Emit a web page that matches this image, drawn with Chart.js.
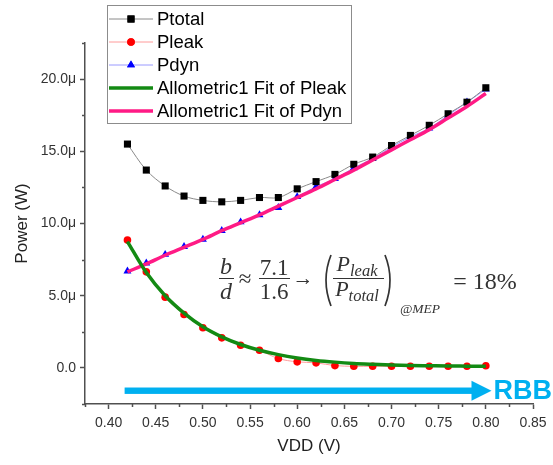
<!DOCTYPE html>
<html>
<head>
<meta charset="utf-8">
<script src="https://cdn.jsdelivr.net/npm/chart.js@4.4.0/dist/chart.umd.min.js"></script>
<style>
html,body{margin:0;padding:0;background:#fff;}
#wrap{position:relative;width:553px;height:465px;overflow:hidden;}
#c{position:absolute;left:0;top:0;}
.m{position:absolute;font-family:"Liberation Serif",serif;color:#333;line-height:1;white-space:nowrap;transform:translate(-50%,-50%);}
.i{font-style:italic;}
.bar{position:absolute;height:1.4px;background:#333;}
sub{font-size:0.75em;vertical-align:-0.28em;}
</style>
</head>
<body>
<div id="wrap">
  <canvas id="c" width="553" height="465"></canvas>
  <!-- formula -->
  <div class="m i" style="left:226px;top:266px;font-size:24px">b</div>
  <div class="bar" style="left:219px;top:278px;width:15px"></div>
  <div class="m i" style="left:226px;top:291px;font-size:24px">d</div>
  <div class="m" style="left:245px;top:278px;font-size:23px">≈</div>
  <div class="m" style="left:274px;top:267px;font-size:23px">7.1</div>
  <div class="bar" style="left:259px;top:278px;width:31px"></div>
  <div class="m" style="left:274px;top:291px;font-size:23px">1.6</div>
  <div class="m" style="left:303px;top:278px;font-size:21px">→</div>
  <svg style="position:absolute;left:318px;top:253px" width="80" height="56">
    <path d="M13,2 Q3,27 13,53" fill="none" stroke="#333" stroke-width="1.7"/>
    <path d="M67,2 Q77,27 67,53" fill="none" stroke="#333" stroke-width="1.7"/>
  </svg>
  <div class="m i" style="left:357px;top:266px;font-size:22px">P<sub>leak</sub></div>
  <div class="bar" style="left:333px;top:278px;width:51px"></div>
  <div class="m i" style="left:357px;top:291px;font-size:22px">P<sub>total</sub></div>
  <div class="m i" style="left:420px;top:309px;font-size:13.5px">@MEP</div>
  <div class="m" style="left:485px;top:281px;font-size:24px">= 18%</div>
</div>
<script>
// VDD sweep (V) and measured powers (uW)
const VDD = [0.42, 0.44, 0.46, 0.48, 0.50, 0.52, 0.54, 0.56, 0.58, 0.60,
             0.62, 0.64, 0.66, 0.68, 0.70, 0.72, 0.74, 0.76, 0.78, 0.80];
const P_TOTAL = [15.5, 13.7, 12.6, 11.9, 11.6, 11.5, 11.6, 11.8, 11.8, 12.4,
                 12.9, 13.4, 14.1, 14.6, 15.4, 16.1, 16.8, 17.6, 18.4, 19.4];
const P_LEAK = [8.85, 6.65, 4.9, 3.7, 2.78, 2.08, 1.57, 1.22, 0.65, 0.42,
                0.35, 0.16, 0.11, 0.11, 0.11, 0.11, 0.11, 0.11, 0.11, 0.15];
const P_DYN = [6.7, 7.25, 7.85, 8.4, 8.9, 9.5, 10.1, 10.6, 11.1, 11.85,
               12.55, 13.1, 13.85, 14.5, 15.3, 16.0, 16.6, 17.5, 18.4, 19.3];
// fitted curves
const FIT_LEAK = [8.75, 6.6, 5.0, 3.8, 2.85, 2.15, 1.62, 1.22, 0.92, 0.69,
                  0.52, 0.40, 0.31, 0.25, 0.20, 0.17, 0.15, 0.13, 0.12, 0.11];
const FIT_DYN = [6.65, 7.2, 7.8, 8.35, 8.9, 9.5, 10.05, 10.6, 11.2, 11.8,
                 12.4, 13.05, 13.7, 14.4, 15.1, 15.8, 16.5, 17.3, 18.1, 19.0];

const X_MAJOR = [0.40, 0.45, 0.50, 0.55, 0.60, 0.65, 0.70, 0.75, 0.80, 0.85];
const X_LABELS = ["0.40","0.45","0.50","0.55","0.60","0.65","0.70","0.75","0.80","0.85"];
const X_MINOR = [0.375, 0.425, 0.475, 0.525, 0.575, 0.625, 0.675, 0.725, 0.775, 0.825];
const Y_MAJOR = [0, 5, 10, 15, 20];
const Y_LABELS = ["0.0", "5.0\u03bc", "10.0\u03bc", "15.0\u03bc", "20.0\u03bc"];
const Y_MINOR = [-2.5, 2.5, 7.5, 12.5, 17.5, 22.5];

// RBB arrow, in data units
const ARROW_X = [0.417, 0.806];
const ARROW_Y = -1.58;

const FONT = "'Liberation Sans', Arial, sans-serif";
const AXIS = "#505050";

function pts(ys){ return VDD.map((x,i) => ({ x, y: ys[i] })); }

const series = [
  { label:"Ptotal", data:pts(P_TOTAL), borderColor:"#8a8a8a", borderWidth:1, backgroundColor:"#000",
    pointStyle:"rect", pointRadius:5, pointBorderWidth:0, tension:0.35, order:2 },
  { label:"Pleak", data:pts(P_LEAK), borderColor:"#ff9a9a", borderWidth:1, backgroundColor:"#ff0000",
    pointStyle:"circle", pointRadius:3.8, pointBorderWidth:0, tension:0.35, order:2 },
  { label:"Pdyn", data:pts(P_DYN), borderColor:"#9a9aff", borderWidth:1, backgroundColor:"#0000ff",
    pointStyle:"triangle", pointRadius:4.6, pointBorderWidth:0, tension:0.35, order:2 },
  { label:"Allometric1 Fit of Pleak", data:pts(FIT_LEAK), borderColor:"#138a13", borderWidth:3.5,
    pointRadius:0, cubicInterpolationMode:"monotone", order:1 },
  { label:"Allometric1 Fit of Pdyn", data:pts(FIT_DYN), borderColor:"#ff1a85", borderWidth:3.5,
    pointRadius:0, cubicInterpolationMode:"monotone", order:1 }
];

const overlay = {
  id:"overlay",
  afterDraw(chart){
    const ctx = chart.ctx;
    const xs = chart.scales.x, ys = chart.scales.y;
    const a = chart.chartArea;
    ctx.save();
    // minor ticks
    ctx.strokeStyle = AXIS; ctx.lineWidth = 1.5;
    ctx.beginPath();
    X_MINOR.forEach(v => { const p = Math.round(xs.getPixelForValue(v)) + 0.5; ctx.moveTo(p, a.bottom); ctx.lineTo(p, a.bottom + 3); });
    Y_MINOR.forEach(v => { const p = Math.round(ys.getPixelForValue(v)) + 0.5; ctx.moveTo(a.left - 3, p); ctx.lineTo(a.left, p); });
    ctx.stroke();

    // RBB arrow
    const x0 = xs.getPixelForValue(ARROW_X[0]), x1 = xs.getPixelForValue(ARROW_X[1]);
    const yy = ys.getPixelForValue(ARROW_Y);
    ctx.fillStyle = "#00b0f0";
    ctx.fillRect(x0, yy - 3.2, x1 - 18 - x0, 6.4);
    ctx.beginPath();
    ctx.moveTo(x1 - 20, yy - 10); ctx.lineTo(x1, yy); ctx.lineTo(x1 - 20, yy + 10); ctx.closePath();
    ctx.fill();
    ctx.font = "bold 27px " + FONT;
    ctx.textBaseline = "middle"; ctx.textAlign = "left";
    ctx.fillText("RBB", x1 + 2, yy + 1);

    // legend box
    const L = { x:107, y:5, w:244, h:118 };
    ctx.fillStyle = "#fff"; ctx.fillRect(L.x, L.y, L.w, L.h);
    ctx.strokeStyle = "#8c8c8c"; ctx.lineWidth = 1;
    ctx.strokeRect(L.x + 0.5, L.y + 0.5, L.w, L.h);
    ctx.font = "18.5px " + FONT; ctx.textBaseline = "middle";
    series.forEach((s, i) => {
      const ry = 19 + i * 23;
      ctx.strokeStyle = s.borderColor;
      ctx.lineWidth = s.borderWidth > 2 ? 3.5 : 1;
      ctx.beginPath(); ctx.moveTo(109, ry); ctx.lineTo(153, ry); ctx.stroke();
      if (s.pointRadius) {
        ctx.fillStyle = s.backgroundColor;
        Chart.helpers.drawPoint(ctx, { pointStyle:s.pointStyle, radius:s.pointRadius, borderWidth:0 }, 131, ry);
        ctx.fill();
      }
      ctx.fillStyle = "#000";
      ctx.fillText(s.label, 157, ry + 1);
    });
    ctx.restore();
  }
};

new Chart(document.getElementById("c"), {
  type:"scatter",
  data:{ datasets: series.map(s => Object.assign({ showLine:true, fill:false }, s)) },
  options:{
    responsive:false, animation:false,
    layout:{ padding:{ left:0, top:43, right:20, bottom:0 } },
    plugins:{ legend:{ display:false }, tooltip:{ enabled:false } },
    scales:{
      x:{
        type:"linear", min:0.375, max:0.85,
        afterBuildTicks: s => { s.ticks = X_MAJOR.map(v => ({ value:v })); },
        afterFit: s => { s.height = 61; },
        border:{ color:AXIS, width:1.5 },
        grid:{ drawOnChartArea:false, tickLength:5, tickColor:AXIS, tickWidth:1.5 },
        ticks:{ font:{ family:FONT, size:14 }, color:"#333", padding:6, maxRotation:0,
                callback:(v, i) => X_LABELS[i] },
        title:{ display:true, text:"VDD (V)", font:{ family:FONT, size:17 }, color:"#222", padding:{ top:0, bottom:8 } }
      },
      y:{
        type:"linear", min:-2.5, max:22.5,
        afterBuildTicks: s => { s.ticks = Y_MAJOR.map(v => ({ value:v })); },
        afterFit: s => { s.width = 85; },
        border:{ color:AXIS, width:1.5 },
        grid:{ drawOnChartArea:false, tickLength:5, tickColor:AXIS, tickWidth:1.5 },
        ticks:{ font:{ family:FONT, size:14 }, color:"#333", padding:4,
                callback:(v, i) => Y_LABELS[i] },
        title:{ display:true, text:"Power (W)", font:{ family:FONT, size:17 }, color:"#222", padding:{ top:12, bottom:0 } }
      }
    }
  },
  plugins:[overlay]
});
</script>
</body>
</html>
